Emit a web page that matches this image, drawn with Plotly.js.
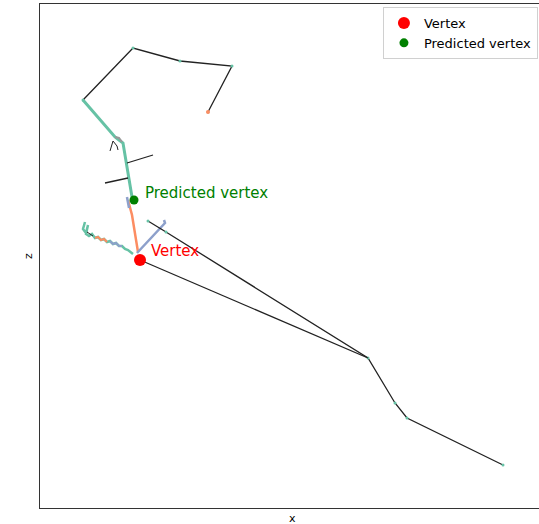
<!DOCTYPE html>
<html><head><meta charset="utf-8">
<script src="https://cdn.plot.ly/plotly-3.0.1.min.js"></script>
<style>html,body{margin:0;padding:0;overflow:hidden;background:#fff}#c{width:560px;height:524px}</style>
</head><body><div id="c"></div><script>
// Track polylines (x, z)
const topLoopX = [168, 192, 140, 93, 43];
const topLoopZ = [396, 442, 447, 460, 408];
const tealMainX = [43, 75, 79, 83, 92];
const tealMainZ = [408, 371, 368, 365, 311];
const kinkX = [75, 79, 82];
const kinkZ = [371, 370, 366];
const smallAX = [70, 73, 77, 78];
const smallAZ = [357, 367, 362, 358];
const cross1X = [87, 113];
const cross1Z = [345, 353];
const cross2X = [65, 88];
const cross2Z = [325, 330];
const orangeX = [88, 92, 98];
const orangeZ = [308, 293, 256];
const greyStubX = [87, 89];
const greyStubZ = [311, 300];
const blueX = [97, 125, 124];
const blueZ = [255, 285, 288];
const longAX = [108, 126, 328, 355, 367, 463];
const longAZ = [287, 276, 150, 105, 90, 43];
const longBX = [100, 328];
const longBZ = [248, 150];
const wiggleX = [45, 43, 46, 48, 46, 49, 52, 55, 58, 61, 64, 67, 70, 73, 76, 79, 82, 85, 88, 93];
const wiggleZ = [286, 279, 275, 283, 274, 272, 274, 270, 271, 268, 269, 266, 267, 264, 265, 262, 262, 259, 258, 254];
const wigOrX = [55, 58, 61, 64, 67];
const wigOrZ = [270, 271, 268, 269, 266];
const wigBlX = [70, 73, 76, 79, 82];
const wigBlZ = [267, 264, 265, 262, 262];
const wigBkX = [47, 53];
const wigBkZ = [276, 272];
const vertexX = [100], vertexZ = [248];
const predX = [94], predZ = [308];

const teal = '#66c2a5', orange = '#fc8d62', blue = '#8da0cb', blk = '#222';
function seg(x, z, color, w, mk) {
  return {x, y: z, type: 'scatter', mode: mk ? 'lines+markers' : 'lines',
    line: {color, width: w}, marker: {color: mk || color, size: 3}, showlegend: false, hoverinfo: 'skip'};
}
const traces = [
  seg(wiggleX, wiggleZ, teal, 2.5),
  seg(wigOrX, wigOrZ, orange, 2),
  seg(wigBlX, wigBlZ, blue, 2),
  seg(wigBkX, wigBkZ, blk, 1),
  seg(tealMainX, tealMainZ, teal, 3),
  seg(kinkX, kinkZ, '#999', 2),
  seg(smallAX, smallAZ, blk, 1),
  seg(topLoopX, topLoopZ, blk, 1.3, teal),
  seg(cross1X, cross1Z, blk, 1.3),
  seg(cross2X, cross2Z, blk, 1.3),
  seg(orangeX, orangeZ, orange, 2.5),
  seg(greyStubX, greyStubZ, blue, 2.5),
  seg(blueX, blueZ, blue, 2.5),
  seg(longAX, longAZ, blk, 1.3, teal),
  seg(longBX, longBZ, blk, 1.3),
  {x: [topLoopX[0]], y: [topLoopZ[0]], type: 'scatter', mode: 'markers', marker: {color: orange, size: 4}, showlegend: false, hoverinfo: 'skip'},
  {x: vertexX, y: vertexZ, type: 'scatter', mode: 'markers', name: 'Vertex', marker: {color: 'red', size: 12}},
  {x: predX, y: predZ, type: 'scatter', mode: 'markers', name: 'Predicted vertex', marker: {color: 'green', size: 9}}
];
const layout = {
  width: 560, height: 524,
  margin: {l: 40, r: 16, t: 4, b: 16},
  paper_bgcolor: '#fff', plot_bgcolor: '#fff',
  font: {family: 'DejaVu Sans', size: 12, color: '#000'},
  xaxis: {range: [0, 504], showgrid: false, zeroline: false, showticklabels: false, ticks: '',
    showline: true, mirror: true, linecolor: '#333', linewidth: 1},
  yaxis: {range: [0, 504], showgrid: false, zeroline: false, showticklabels: false, ticks: '',
    showline: true, mirror: true, linecolor: '#333', linewidth: 1},
  showlegend: true,
  legend: {x: 0.988, y: 0.994, xanchor: 'right', yanchor: 'top', bgcolor: '#fff',
    bordercolor: '#d0d0d0', borderwidth: 1, font: {size: 13, family: 'DejaVu Sans'}},
  annotations: [
    {x: predX[0] + 9, y: predZ[0] + 7, text: 'Predicted vertex', showarrow: false, xanchor: 'left', yanchor: 'middle',
      font: {color: 'green', size: 15, family: 'DejaVu Sans'}},
    {x: vertexX[0] + 9, y: vertexZ[0] + 9, text: 'Vertex', showarrow: false, xanchor: 'left', yanchor: 'middle',
      font: {color: 'red', size: 15, family: 'DejaVu Sans'}},
    {xref: 'paper', yref: 'paper', x: -0.024, y: 0.5, xanchor: 'center', yanchor: 'middle', text: 'z', showarrow: false, textangle: -90,
      font: {size: 11, color: '#000'}},
    {xref: 'paper', yref: 'paper', x: 0.5, y: -0.004, xanchor: 'center', yanchor: 'top', text: 'x', showarrow: false,
      font: {size: 11, color: '#000'}}
  ]
};
Plotly.newPlot('c', traces, layout, {displayModeBar: false, staticPlot: true});
</script></body></html>
